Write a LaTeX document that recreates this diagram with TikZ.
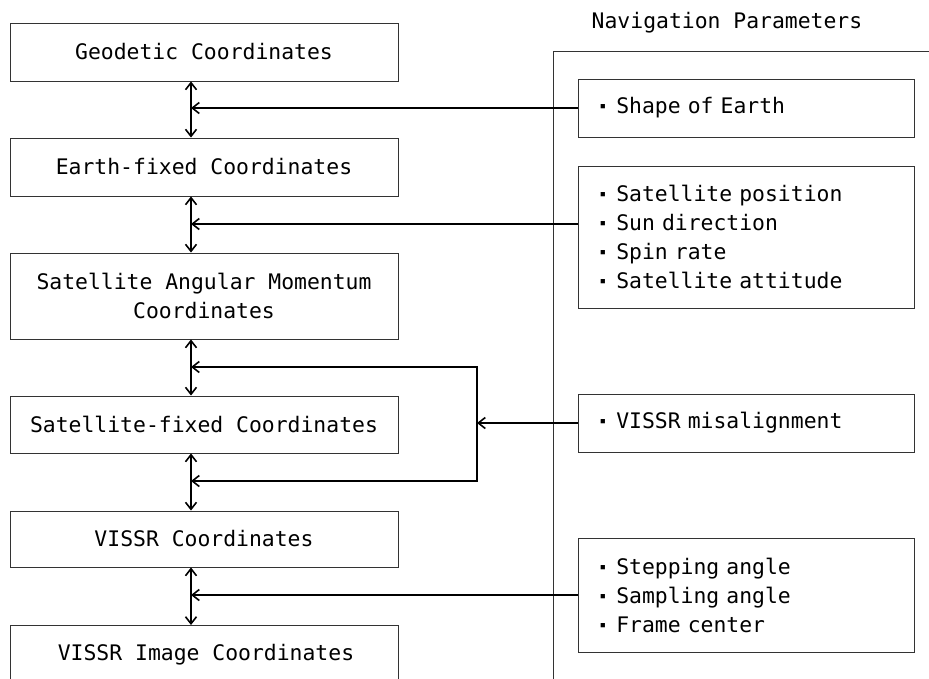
\documentclass[tikz,border=0pt]{standalone}
\usepackage{fontspec}
\newfontfamily\diagfont{DejaVu Sans Mono}
\usetikzlibrary{arrows.meta}
% small square bullet in its own cell
\newcommand\itembul{\makebox[0.9em][l]{\hspace{0.12em}\raisebox{4pt}{\fontsize{11}{11}\selectfont ▪}}}
\begin{document}
\begin{tikzpicture}[x=1pt,y=-1pt,
  every node/.style={font=\diagfont\fontsize{21.4}{29}\selectfont, inner sep=0pt},
  coordbox/.style={draw=black!80, line width=0.9pt, minimum width=388pt, minimum height=58pt},
  parbox/.style={draw=black!80, line width=0.9pt, minimum width=336pt, text width=298pt, align=left},
  link/.style={line width=1.6pt, -{Straight Barb[length=7pt,width=11pt]}},
  twoway/.style={line width=1.6pt, line join=miter,
    {Straight Barb[length=7pt,width=11pt]}-{Straight Barb[length=7pt,width=11pt]}},
  framerule/.style={draw=black!80, line width=0.8pt}]
\useasboundingbox (0,0) rectangle (929,678);

% coordinate chain
\node[coordbox] (geo) at (204,52) {Geodetic Coordinates};
\node[coordbox] (earth) at (204,167) {Earth-fixed Coordinates};
\node[coordbox, minimum height=86pt, align=center] (sam) at (204,296)
  {Satellite Angular Momentum\\Coordinates};
\node[coordbox, minimum height=57pt] (satf) at (204,424.5) {Satellite-fixed Coordinates};
\node[coordbox, minimum height=56pt] (vissr) at (204,539) {VISSR Coordinates};
\begin{scope}
  \clip (0,0) rectangle (929,678);
  \node[coordbox, minimum height=120pt, anchor=north] (img) at (204,625) {};
  \coordinate (fbottom) at (553,700);
  \coordinate (fcorner) at (553,51);
  \coordinate (fright) at (940,51);
  \draw[framerule] (fbottom) -- (fcorner) -- (fright);
\end{scope}
\node (imglabel) at (206,655) {VISSR Image Coordinates};

% navigation parameters
\node (navtitle) at (727,23) {Navigation Parameters};
\node[parbox, minimum height=58pt] (p1) at (746,108) {\itembul Shape of Earth};
\node[parbox, minimum height=142pt] (p2) at (746,237)
  {\itembul Satellite position\\\itembul Sun direction\\\itembul Spin rate\\\itembul Satellite attitude};
\node[parbox, minimum height=58pt] (p3) at (746,423) {\itembul VISSR misalignment};
\node[parbox, minimum height=114pt] (p4) at (746,595)
  {\itembul Stepping angle\\\itembul Sampling angle\\\itembul Frame center};

% connectors
\coordinate (spine) at (191,0);
\coordinate (lt) at (477,367);
\coordinate (lb) at (477,481);
\draw[twoway] (geo.south -| spine) -- (earth.north -| spine);
\draw[twoway] (earth.south -| spine) -- (sam.north -| spine);
\draw[twoway] (sam.south -| spine) -- (satf.north -| spine);
\draw[twoway] (satf.south -| spine) -- (vissr.north -| spine);
\draw[twoway] (vissr.south -| spine) -- (img.north -| spine);

\draw[link] (p1.west) -- (p1.west -| spine);
\draw[link] ([yshift=13pt]p2.west) -- ([yshift=13pt]p2.west -| spine);
\draw[link] (p3.west) -- (p3.west -| lt);
\draw[twoway] (lt -| spine) -- (lt) -- (lb) -- (lb -| spine);
\draw[link] (p4.west) -- (p4.west -| spine);
\end{tikzpicture}
\end{document}
